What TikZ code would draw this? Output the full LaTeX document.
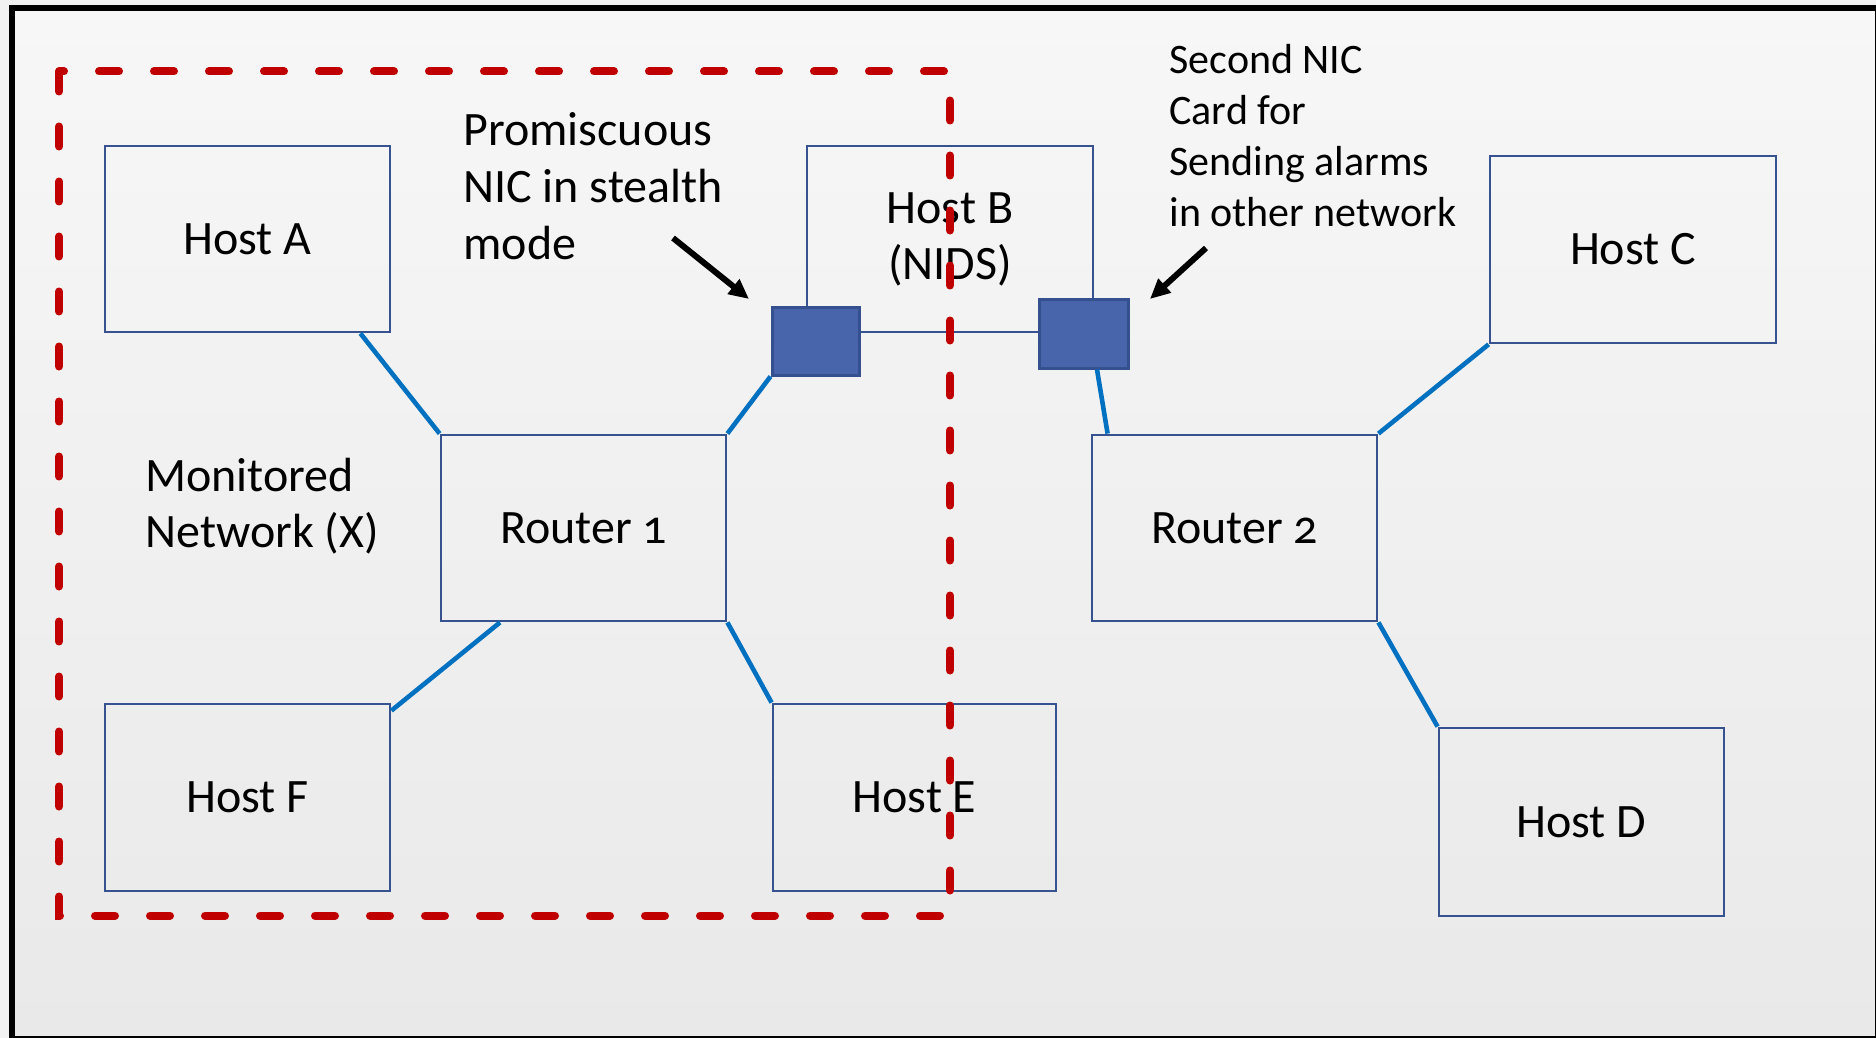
\documentclass[tikz,border=0pt]{standalone}
\usepackage{fontspec}
\setmainfont{Carlito}[Numbers=OldStyle]
\usetikzlibrary{arrows.meta}
\definecolor{boxblue}{HTML}{36538F}
\definecolor{nicfill}{HTML}{4865AB}
\definecolor{nicborder}{HTML}{34508F}
\definecolor{linkblue}{HTML}{0070C0}
\definecolor{netred}{HTML}{C00000}
\definecolor{bgout}{HTML}{F2F2F2}
\definecolor{bgtop}{HTML}{F7F7F7}
\definecolor{bgbot}{HTML}{E9E9E9}
\begin{document}
\begin{tikzpicture}[x=0.5pt,y=-0.5pt,
  hostbox/.style={draw=boxblue,line width=1.4pt,inner sep=0pt,align=center,
    font=\fontsize{24}{28}\selectfont},
  nicbox/.style={draw=nicborder,fill=nicfill,line width=1.5pt,inner sep=0pt},
  link/.style={draw=linkblue,line width=2.3pt},
  pointer/.style={draw=black,line width=3pt,-{Triangle[length=10pt,width=9pt]}},
  note/.style={inner sep=0pt,align=left,anchor=north west},
  monitor/.style={draw=netred,line width=4pt,line cap=round,dash pattern=on 10pt off 17.5pt}]
\useasboundingbox (0,0) rectangle (1876,1038);
\fill[bgout] (0,0) rectangle (1876,1038);
\shade[top color=bgtop,bottom color=bgbot] (12,8) rectangle (1876,1038);
\draw[black,line width=3pt] (12,8) rectangle (1878,1039);

% hosts and routers
\node[hostbox,minimum width=142.5pt,minimum height=93pt] (hA) at (247.5,239) {Host A};
\node[hostbox,minimum width=143pt,minimum height=93pt] (hB) at (950,239) {Host B\\(NIDS)};
\node[hostbox,minimum width=143pt,minimum height=93.5pt] (hC) at (1633,249.5) {Host C};
\node[hostbox,minimum width=142.5pt,minimum height=93pt] (r1) at (583.5,528) {Router 1};
\node[hostbox,minimum width=142.5pt,minimum height=93pt] (r2) at (1234.5,528) {Router 2};
\node[hostbox,minimum width=142.5pt,minimum height=93.5pt] (hF) at (247.5,797.5) {Host F};
\node[hostbox,minimum width=141.5pt,minimum height=93.5pt] (hE) at (914.5,797.5) {Host E};
\node[hostbox,minimum width=142.5pt,minimum height=94pt] (hD) at (1581.5,822) {Host D};

% NIC cards
\node[nicbox,minimum width=43.5pt,minimum height=34pt] (nic1) at (815.5,341) {};
\node[nicbox,minimum width=44.5pt,minimum height=34.5pt] (nic2) at (1083.5,333.5) {};

% links
\draw[link] ([xshift=-15.5pt]hA.south east) -- (r1.north west);
\draw[link] (r1.north east) -- (nic1.south west);
\draw[link] ([xshift=6.75pt]nic2.south) -- ([xshift=8.5pt]r2.north west);
\draw[link] (r2.north east) -- (hC.south west);
\draw[link] ([xshift=-41.75pt]r1.south) -- ([yshift=-4pt]hF.north east);
\draw[link] (r1.south east) -- (hE.north west);
\draw[link] (r2.south east) -- (hD.north west);

% annotations
\node[note,font=\fontsize{24}{28.5}\selectfont] (promisc) at (463,112) {Promiscuous\\NIC in stealth\\mode};
\node[note,font=\fontsize{21}{25.5}\selectfont] (second) at (1169,44) {Second NIC\\Card for\\Sending alarms\\in other network};
\node[note,font=\fontsize{24}{28}\selectfont] (monlabel) at (145,458) {Monitored\\Network (X)};

\coordinate (a1s) at (673,238);
\coordinate (a1e) at (749,299);
\coordinate (a2s) at (1206,248);
\coordinate (a2e) at (1150,299);
\draw[pointer] (a1s) -- (a1e);
\draw[pointer] (a2s) -- (a2e);

% monitored network boundary
\draw[monitor] (59,71.5) rectangle (950,915.5);
\end{tikzpicture}
\end{document}
